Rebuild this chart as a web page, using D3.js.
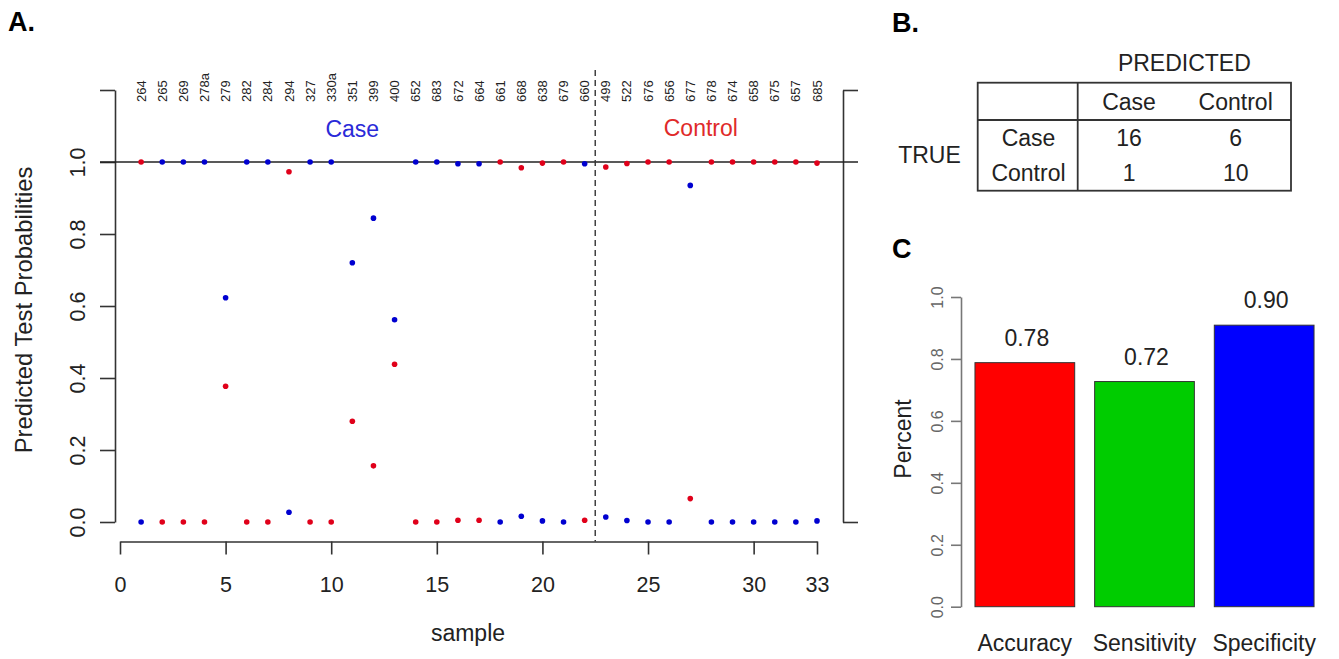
<!DOCTYPE html>
<html>
<head>
<meta charset="utf-8">
<script src="https://cdn.jsdelivr.net/npm/d3@7"></script>
<style>
    body { margin: 0; background: #fff; }
    svg text { font-family: "Liberation Sans", Arial, sans-serif; fill: #222; }
</style>
</head>
<body>
<svg id="fig" width="1339" height="659"></svg>
<script>
// Panel A: predicted probabilities per sample
const sampleIds = ["264", "265", "269", "278a", "279", "282", "284", "294", "327", "330a",
    "351", "399", "400", "652", "683", "672", "664", "661", "668", "638", "679", "660",
    "499", "522", "676", "656", "677", "678", "674", "658", "675", "657", "685"];
// probability of Case (blue) and Control (red)
const probCase = [0.0, 1.0, 1.0, 1.0, 0.623, 1.0, 1.0, 0.027, 1.0, 1.0,
    0.72, 0.844, 0.562, 1.0, 1.0, 0.995, 0.995, 0.0, 0.016, 0.003, 0.0, 0.995,
    0.014, 0.004, 0.0, 0.0, 0.935, 0.0, 0.0, 0.0, 0.0, 0.0, 0.003];
const probControl = [1.0, 0.0, 0.0, 0.0, 0.377, 0.0, 0.0, 0.973, 0.0, 0.0,
    0.28, 0.156, 0.438, 0.0, 0.0, 0.005, 0.005, 1.0, 0.984, 0.997, 1.0, 0.005,
    0.986, 0.996, 1.0, 1.0, 0.065, 1.0, 1.0, 1.0, 1.0, 1.0, 0.997];
const nCase = 22;
const xTicks = [0, 5, 10, 15, 20, 25, 30, 33];
const yTicks = [0, 0.2, 0.4, 0.6, 0.8, 1.0, 1.2];

// Panel B: confusion matrix
const predLabels = ["Case", "Control"];
const trueLabels = ["Case", "Control"];
const confusion = [[16, 6], [1, 10]];

// Panel C: performance
const metrics = ["Accuracy", "Sensitivity", "Specificity"];
const metricValues = [0.788, 0.727, 0.909];
const metricLabels = ["0.78", "0.72", "0.90"];
const metricColors = ["#ff0000", "#00cc00", "#0000ff"];
const cTicks = [0, 0.2, 0.4, 0.6, 0.8, 1.0];

const svg = d3.select("#fig");

// panel letters
svg.append("text").attr("x", 8).attr("y", 31).style("font-size", "27px").style("font-weight", "bold").style("fill", "#000").text("A.");
svg.append("text").attr("x", 892).attr("y", 32).style("font-size", "27px").style("font-weight", "bold").style("fill", "#000").text("B.");
svg.append("text").attr("x", 892).attr("y", 258).style("font-size", "27px").style("font-weight", "bold").style("fill", "#000").text("C");

// ---------- Panel A ----------
const x = d3.scaleLinear().domain([0, 33]).range([120, 817]);
const y = d3.scaleLinear().domain([0, 1.2]).range([522, 90]);
const samples = sampleIds.map((id, i) => ({ id, n: i + 1, pCase: probCase[i], pControl: probControl[i] }));

const axisColor = "#333";

const leftAxis = svg.append("g")
    .attr("transform", "translate(115,0)")
    .call(d3.axisLeft(y).tickValues(yTicks).tickSize(15).tickSizeOuter(0)
        .tickFormat(d => d <= 1.001 ? d.toFixed(1) : ""));
leftAxis.selectAll("text")
    .attr("x", 0).attr("dy", "0.35em")
    .attr("text-anchor", "middle")
    .attr("transform", "translate(-38,0) rotate(-90)")
    .style("font-size", "21.5px").style("font-family", "Liberation Sans, Arial, sans-serif").style("fill", "#222");

const rightAxis = svg.append("g")
    .attr("transform", "translate(843,0)")
    .call(d3.axisRight(y).tickValues([0, 1.2]).tickSize(15).tickSizeOuter(0).tickFormat(""));

const bottomAxis = svg.append("g")
    .attr("transform", "translate(0,541.5)")
    .call(d3.axisBottom(x).tickValues(xTicks).tickSize(13).tickSizeOuter(0).tickPadding(22).tickFormat(d3.format("d")));
bottomAxis.selectAll("text")
    .style("font-size", "21.5px").style("font-family", "Liberation Sans, Arial, sans-serif").style("fill", "#222");

[leftAxis, rightAxis, bottomAxis].forEach(g => {
    g.selectAll("path, line").attr("stroke", axisColor).attr("stroke-width", 1.6);
});

// reference line at 1.0
svg.append("line")
    .attr("x1", 100).attr("x2", 858)
    .attr("y1", y(1)).attr("y2", y(1))
    .attr("stroke", "#222").attr("stroke-width", 1.6);

// divider between case and control
svg.append("line")
    .attr("x1", x(nCase + 0.5)).attr("x2", x(nCase + 0.5))
    .attr("y1", 70).attr("y2", 541.5)
    .attr("stroke", "#333").attr("stroke-width", 1.4)
    .attr("stroke-dasharray", "6,4");

// sample id labels
svg.selectAll(".sid")
    .data(samples)
    .enter()
    .append("text")
    .attr("class", "sid")
    .attr("transform", d => `translate(${x(d.n)},102) rotate(-90)`)
    .attr("dy", "0.35em")
    .attr("text-anchor", "start")
    .style("font-size", "13px")
    .text(d => d.id);

svg.append("text")
    .attr("x", x(nCase / 2)).attr("y", 129).attr("dy", "0.35em")
    .attr("text-anchor", "middle")
    .style("font-size", "23px").style("fill", "#2a2ad8")
    .text("Case");
svg.append("text")
    .attr("x", x(27.5)).attr("y", 128).attr("dy", "0.35em")
    .attr("text-anchor", "middle")
    .style("font-size", "23px").style("fill", "#e02a2a")
    .text("Control");

// points
svg.selectAll(".dot-control")
    .data(samples)
    .enter()
    .append("circle")
    .attr("class", "dot-control")
    .attr("cx", d => x(d.n))
    .attr("cy", d => y(d.pControl))
    .attr("r", 2.8)
    .style("fill", "#e0001a");
svg.selectAll(".dot-case")
    .data(samples)
    .enter()
    .append("circle")
    .attr("class", "dot-case")
    .attr("cx", d => x(d.n))
    .attr("cy", d => y(d.pCase))
    .attr("r", 2.8)
    .style("fill", "#0000d0");

// axis titles
svg.append("text")
    .attr("transform", "translate(24,310) rotate(-90)")
    .attr("dy", "0.35em")
    .attr("text-anchor", "middle")
    .style("font-size", "23.8px")
    .text("Predicted Test Probabilities");
svg.append("text")
    .attr("x", 468).attr("y", 633).attr("dy", "0.35em")
    .attr("text-anchor", "middle")
    .style("font-size", "23px")
    .text("sample");

// ---------- Panel B ----------
const col = d3.scaleBand().domain(predLabels).range([1077.7, 1291]);
const row = d3.scaleBand().domain(trueLabels).range([120, 190.7]);
const tb = svg.append("g");
tb.append("rect")
    .attr("x", 977.7).attr("y", 82.7)
    .attr("width", 1291 - 977.7).attr("height", 190.7 - 82.7)
    .attr("fill", "none").attr("stroke", "#333").attr("stroke-width", 1.8);
tb.append("line").attr("x1", 1077.7).attr("x2", 1077.7).attr("y1", 82.7).attr("y2", 190.7)
    .attr("stroke", "#333").attr("stroke-width", 1.8);
tb.append("line").attr("x1", 977.7).attr("x2", 1291).attr("y1", 120).attr("y2", 120)
    .attr("stroke", "#333").attr("stroke-width", 1.8);

tb.append("text")
    .attr("x", (1077.7 + 1291) / 2).attr("y", 63).attr("dy", "0.35em")
    .attr("text-anchor", "middle").style("font-size", "23px")
    .text("PREDICTED");
tb.append("text")
    .attr("x", 929.5).attr("y", 155).attr("dy", "0.35em")
    .attr("text-anchor", "middle").style("font-size", "23px")
    .text("TRUE");
tb.selectAll(".colhead")
    .data(predLabels)
    .enter()
    .append("text")
    .attr("x", d => col(d) + col.bandwidth() / 2 - 2)
    .attr("y", 102).attr("dy", "0.35em")
    .attr("text-anchor", "middle").style("font-size", "23px")
    .text(d => d);
tb.selectAll(".rowhead")
    .data(trueLabels)
    .enter()
    .append("text")
    .attr("x", 1028.5)
    .attr("y", d => row(d) + row.bandwidth() / 2).attr("dy", "0.35em")
    .attr("text-anchor", "middle").style("font-size", "23px")
    .text(d => d);
confusion.forEach((r, i) => {
    r.forEach((v, j) => {
        tb.append("text")
            .attr("x", col(predLabels[j]) + col.bandwidth() / 2 - 2)
            .attr("y", row(trueLabels[i]) + row.bandwidth() / 2).attr("dy", "0.35em")
            .attr("text-anchor", "middle").style("font-size", "23px")
            .text(v);
    });
});

// ---------- Panel C ----------
const xb = d3.scaleBand().domain(metrics).range([965, 1324]).paddingInner(1 / 6).paddingOuter(1 / 12);
const yb = d3.scaleLinear().domain([0, 1]).range([606.7, 297]);

const cAxis = svg.append("g")
    .attr("transform", "translate(961,0)")
    .call(d3.axisLeft(yb).tickValues(cTicks).tickSize(10).tickSizeOuter(0).tickFormat(d3.format(".1f")));
cAxis.selectAll("path, line").attr("stroke", "#777").attr("stroke-width", 1.6);
cAxis.selectAll("text")
    .attr("x", 0).attr("dy", "0.35em")
    .attr("text-anchor", "middle")
    .attr("transform", "translate(-24,0) rotate(-90)")
    .style("font-size", "16px").style("font-family", "Liberation Sans, Arial, sans-serif").style("fill", "#666");

const bars = metrics.map((m, i) => ({ m, v: metricValues[i], label: metricLabels[i], color: metricColors[i] }));
svg.selectAll(".bar")
    .data(bars)
    .enter()
    .append("rect")
    .attr("class", "bar")
    .attr("x", d => xb(d.m))
    .attr("y", d => yb(d.v))
    .attr("width", xb.bandwidth())
    .attr("height", d => yb(0) - yb(d.v))
    .attr("fill", d => d.color)
    .attr("stroke", "#333").attr("stroke-width", 1);

svg.selectAll(".barval")
    .data(bars)
    .enter()
    .append("text")
    .attr("x", d => xb(d.m) + xb.bandwidth() / 2 + 2)
    .attr("y", d => yb(d.v) - 25).attr("dy", "0.35em")
    .attr("text-anchor", "middle").style("font-size", "23px")
    .text(d => d.label);

svg.selectAll(".barname")
    .data(bars)
    .enter()
    .append("text")
    .attr("x", d => xb(d.m) + xb.bandwidth() / 2)
    .attr("y", 643).attr("dy", "0.35em")
    .attr("text-anchor", "middle").style("font-size", "23px")
    .text(d => d.m);

svg.append("text")
    .attr("transform", "translate(903,439) rotate(-90)")
    .attr("dy", "0.35em")
    .attr("text-anchor", "middle").style("font-size", "23px")
    .text("Percent");
</script>
</body>
</html>
